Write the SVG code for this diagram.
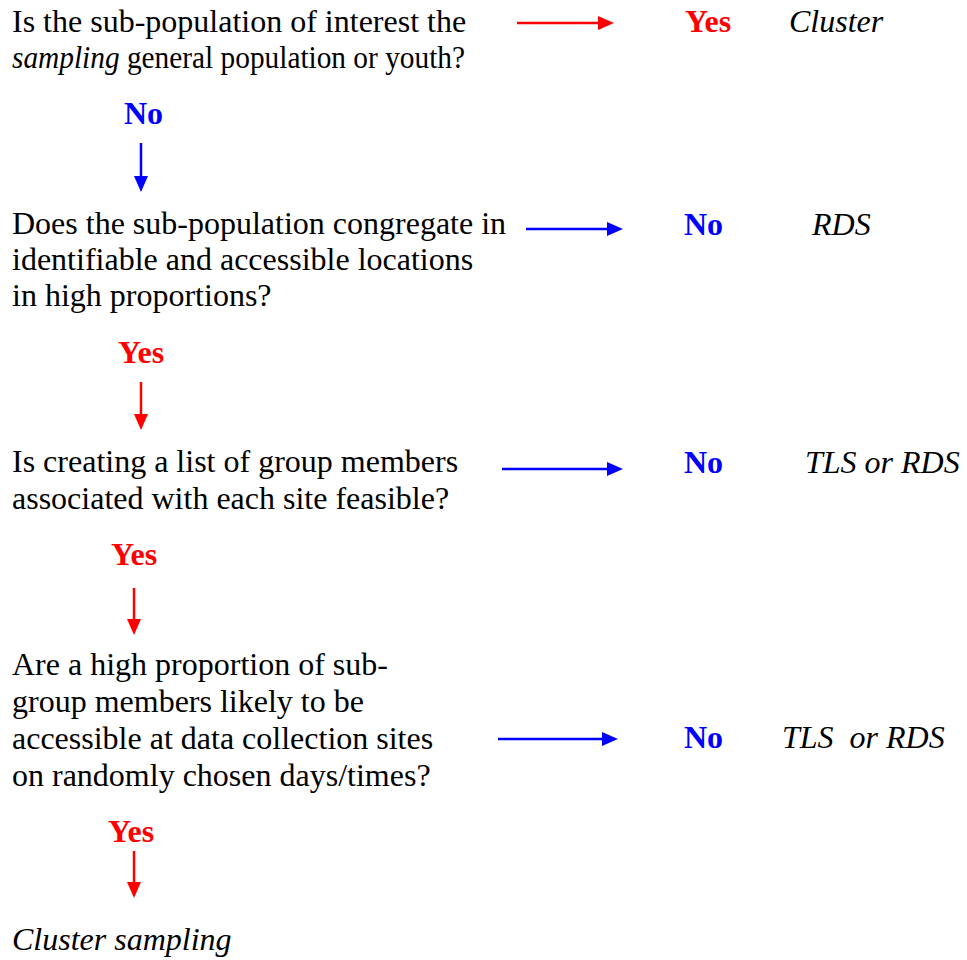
<svg xmlns="http://www.w3.org/2000/svg" width="967" height="960" viewBox="0 0 967 960">
<style>
text { font-family: "Liberation Serif", "Times New Roman", serif; font-size: 32px; fill: #000; }
.it { font-style: italic; }
.yes { font-weight: bold; fill: #ff0000; }
.no { font-weight: bold; fill: #0000ff; }
.r { stroke: #ff0000; stroke-width: 2.5; fill: none; }
.b { stroke: #0000ff; stroke-width: 2.5; fill: none; }
</style>
<defs>
<marker id="ar" viewBox="0 0 16 14" refX="8" refY="7" markerWidth="16" markerHeight="14" markerUnits="userSpaceOnUse" orient="auto">
<path d="M0,0 L16,7 L0,14 z" fill="#ff0000"/>
</marker>
<marker id="ab" viewBox="0 0 16 14" refX="8" refY="7" markerWidth="16" markerHeight="14" markerUnits="userSpaceOnUse" orient="auto">
<path d="M0,0 L16,7 L0,14 z" fill="#0000ff"/>
</marker>
</defs>
<rect width="967" height="960" fill="#fff"/>

<g id="q1">
<text x="12" y="32">Is the sub-population of interest the</text>
<text x="12" y="68" textLength="453" lengthAdjust="spacingAndGlyphs"><tspan class="it">sampling</tspan> general population or youth?</text>
</g>
<g id="r1">
<text class="yes" x="685" y="32">Yes</text>
<text class="it" x="789" y="32">Cluster</text>
</g>
<g id="l1"><text class="no" x="124" y="124">No</text></g>

<g id="q2">
<text x="12" y="234">Does the sub-population congregate in</text>
<text x="12" y="270">identifiable and accessible locations</text>
<text x="12" y="306">in high proportions?</text>
</g>
<g id="r2">
<text class="no" x="684" y="235">No</text>
<text class="it" x="812" y="235">RDS</text>
</g>
<g id="l2"><text class="yes" x="118" y="363">Yes</text></g>

<g id="q3">
<text x="12" y="472">Is creating a list of group members</text>
<text x="12" y="509">associated with each site feasible?</text>
</g>
<g id="r3">
<text class="no" x="684" y="473">No</text>
<text class="it" x="805" y="473">TLS or RDS</text>
</g>
<g id="l3"><text class="yes" x="111" y="565">Yes</text></g>

<g id="q4">
<text x="12" y="675">Are a high proportion of sub-</text>
<text x="12" y="712">group members likely to be</text>
<text x="12" y="749">accessible at data collection sites</text>
<text x="12" y="786">on randomly chosen days/times?</text>
</g>
<g id="r4">
<text class="no" x="684" y="748">No</text>
<text class="it" x="782" y="748" xml:space="preserve">TLS  or RDS</text>
</g>
<g id="l4"><text class="yes" x="108" y="842">Yes</text></g>

<g id="end"><text class="it" x="12" y="950">Cluster sampling</text></g>

<g id="connectors">
<line class="r" x1="517" y1="23" x2="606" y2="23" marker-end="url(#ar)"/>
<line class="b" x1="141" y1="143" x2="141" y2="184" marker-end="url(#ab)"/>
<line class="b" x1="526" y1="229" x2="615" y2="229" marker-end="url(#ab)"/>
<line class="r" x1="141" y1="382" x2="141" y2="422" marker-end="url(#ar)"/>
<line class="b" x1="502" y1="469" x2="615" y2="469" marker-end="url(#ab)"/>
<line class="r" x1="134" y1="588" x2="134" y2="627" marker-end="url(#ar)"/>
<line class="b" x1="498" y1="739" x2="610" y2="739" marker-end="url(#ab)"/>
<line class="r" x1="134" y1="851" x2="134" y2="890" marker-end="url(#ar)"/>
</g>
</svg>
